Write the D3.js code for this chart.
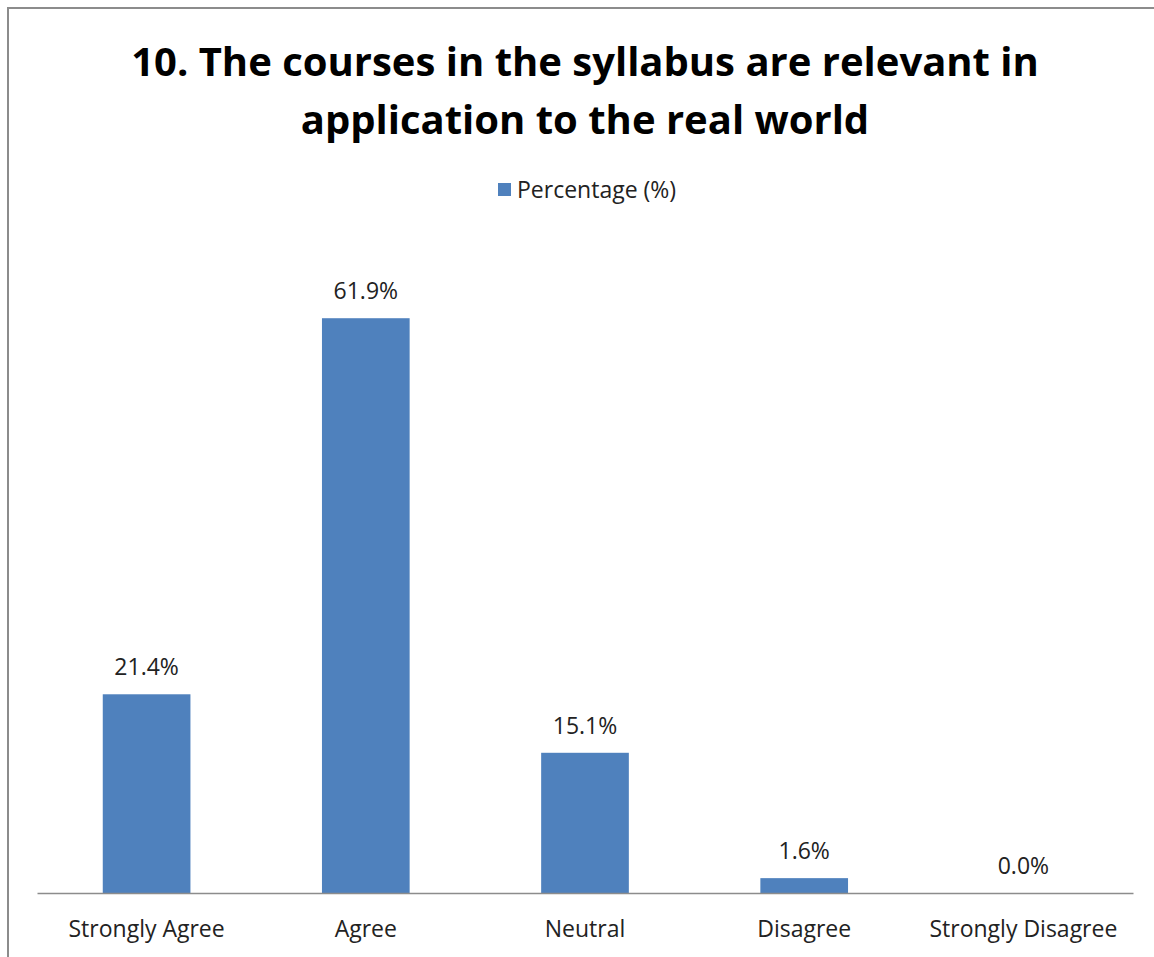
<!DOCTYPE html>
<html>
<head>
<meta charset="utf-8">
<script src="https://cdn.jsdelivr.net/npm/d3@7"></script>
<style>
  body { margin: 0; background: #fff; }
  text { font-family: "Open Sans", "Noto Sans", sans-serif; }
</style>
</head>
<body>
<div id="chart"></div>
<script>
var categories = ["Strongly Agree", "Agree", "Neutral", "Disagree", "Strongly Disagree"];
var percentages = [21.4, 61.9, 15.1, 1.6, 0.0];
var titleLines = ["10. The courses in the syllabus are relevant in", "application to the real world"];
var seriesName = "Percentage (%)";

var width = 1154;
var height = 957;
var barColor = "#4f81bd";

var svg = d3.select("#chart").append("svg")
    .attr("width", width)
    .attr("height", height);

// chart frame
svg.append("rect")
    .attr("x", 8).attr("y", 8)
    .attr("width", width + 10).attr("height", height + 10)
    .attr("fill", "none")
    .attr("stroke", "#8c8c8c")
    .attr("stroke-width", 2);

/* Title */
svg.selectAll(".title")
    .data(titleLines).enter()
    .append("text")
    .attr("class", "title")
    .attr("x", 585)
    .attr("y", (d, i) => 76 + i * 58)
    .attr("text-anchor", "middle")
    .style("font-size", "40px")
    .style("font-weight", "bold")
    .attr("fill", "#000")
    .text(d => d);

/* Legend */
svg.append("rect")
    .attr("x", 498).attr("y", 183)
    .attr("width", 13).attr("height", 13)
    .attr("fill", barColor);
svg.append("text")
    .attr("x", 517).attr("y", 198)
    .style("font-size", "23px")
    .attr("fill", "#222")
    .text(seriesName);

/* Scales */
var xScale = d3.scaleBand()
    .domain(categories)
    .range([37, 1133])
    .paddingInner(0.6)
    .paddingOuter(0.3);

var yScale = d3.scaleLinear()
    .domain([0, 70])
    .range([893, 243]);

/* Bars */
svg.selectAll(".bar")
    .data(percentages).enter()
    .append("rect")
    .attr("class", "bar")
    .attr("x", (d, i) => xScale(categories[i]))
    .attr("y", d => yScale(d))
    .attr("width", xScale.bandwidth())
    .attr("height", d => yScale(0) - yScale(d))
    .attr("fill", barColor);

/* Value labels */
svg.selectAll(".value")
    .data(percentages).enter()
    .append("text")
    .attr("class", "value")
    .attr("x", (d, i) => xScale(categories[i]) + xScale.bandwidth() / 2)
    .attr("y", d => yScale(d) - 19)
    .attr("text-anchor", "middle")
    .style("font-size", "23px")
    .attr("fill", "#222")
    .text(d => d.toFixed(1) + "%");

/* X axis */
var xAxis = d3.axisBottom(xScale).tickSize(0).tickPadding(0);
var gx = svg.append("g")
    .attr("transform", "translate(0, 893)")
    .call(xAxis);
gx.select(".domain").attr("stroke", "#8c8c8c").attr("stroke-width", 1.5);
gx.selectAll(".tick text")
    .attr("y", 0)
    .attr("dy", 44)
    .style("font-size", "23px")
    .style("font-family", "'Open Sans', 'Noto Sans', sans-serif")
    .attr("fill", "#222");
</script>
</body>
</html>
